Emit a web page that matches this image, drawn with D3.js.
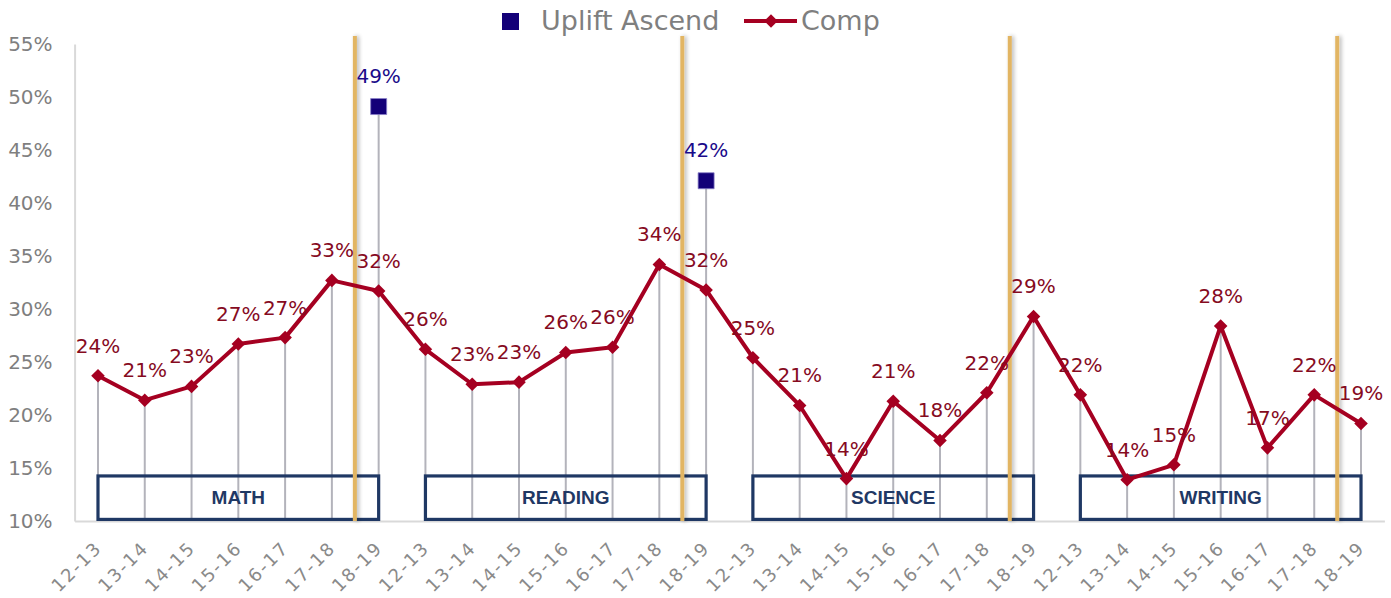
<!DOCTYPE html>
<html>
<head>
<meta charset="utf-8">
<script src="https://cdn.jsdelivr.net/npm/d3@7"></script>
<style>
html,body{margin:0;padding:0;background:#fff;}
svg{display:block;}
</style>
</head>
<body>
<svg id="chart" width="1391" height="598"></svg>
<script>
// ---- data ----
const years = ["12-13","13-14","14-15","15-16","16-17","17-18","18-19"];
const subjects = ["MATH","READING","SCIENCE","WRITING"];
const compMath    = [23.7, 21.4, 22.7, 26.7, 27.3, 32.7, 31.7];
const compReading = [26.2, 22.9, 23.1, 25.9, 26.4, 34.2, 31.8];
const compScience = [25.4, 20.9, 14.0, 21.3, 17.6, 22.1, 29.3];
const compWriting = [21.9, 13.9, 15.3, 28.4, 16.9, 21.9, 19.2];
const upliftMath    = [null, null, null, null, null, null, 49.1];
const upliftReading = [null, null, null, null, null, null, 42.1];
const upliftScience = [null, null, null, null, null, null, null];
const upliftWriting = [null, null, null, null, null, null, null];
const yTicks = [10,15,20,25,30,35,40,45,50,55];

const compAll = [compMath, compReading, compScience, compWriting];
const upliftAll = [upliftMath, upliftReading, upliftScience, upliftWriting];

// flatten
const rows = [];
subjects.forEach((s, si) => {
  years.forEach((yr, yi) => {
    rows.push({key: s + "|" + yr, subject: s, year: yr, si, yi,
               comp: compAll[si][yi], uplift: upliftAll[si][yi]});
  });
});

const svg = d3.select("#chart");
const FONT = "'DejaVu Sans', sans-serif";

const x = d3.scaleBand().domain(rows.map(d => d.key)).range([74.6, 1384.4]).padding(0);
const cx = k => x(k) + x.bandwidth() / 2;
const y = d3.scaleLinear().domain([10, 55]).range([521, 44]);

// shadow filter
const defs = svg.append("defs");
const f = defs.append("filter").attr("id", "sh").attr("filterUnits", "userSpaceOnUse")
  .attr("x", 0).attr("y", 0).attr("width", 1391).attr("height", 598);
f.append("feGaussianBlur").attr("in", "SourceAlpha").attr("stdDeviation", 2).attr("result", "b");
f.append("feOffset").attr("in", "b").attr("dx", 2).attr("dy", 0).attr("result", "o");
f.append("feComponentTransfer").attr("in", "o").attr("result", "o2")
  .append("feFuncA").attr("type", "linear").attr("slope", 0.3);
const fm = f.append("feMerge");
fm.append("feMergeNode").attr("in", "o2");
fm.append("feMergeNode").attr("in", "SourceGraphic");

// Y axis
const yAxis = svg.append("g").attr("transform", "translate(74.6,0)")
  .call(d3.axisLeft(y).tickValues(yTicks).tickSize(0).tickPadding(22).tickFormat(d => d + "%"));
yAxis.select(".domain").attr("stroke", "#d9d9d9").attr("stroke-width", 2);
yAxis.selectAll("text").attr("fill", "#7f7f7f").style("font-family", FONT).style("font-size", "20px");

// X axis
const xAxis = svg.append("g").attr("transform", "translate(0,521)")
  .call(d3.axisBottom(x).tickSize(0).tickFormat(k => k.split("|")[1]));
xAxis.select(".domain").attr("stroke", "#d9d9d9").attr("stroke-width", 2);
xAxis.selectAll("text")
  .attr("fill", "#8a8a8a")
  .style("font-family", FONT).style("font-size", "18px").style("letter-spacing", "2px")
  .attr("text-anchor", "end")
  .attr("dy", 0).attr("y", 0)
  .attr("transform", "translate(5,28) rotate(-45)");

// drop lines
svg.append("g").selectAll("line").data(rows).join("line")
  .attr("x1", d => cx(d.key)).attr("x2", d => cx(d.key))
  .attr("y1", d => y(d.uplift != null ? d.uplift : d.comp))
  .attr("y2", y(10))
  .attr("stroke", "#b3b3bb").attr("stroke-width", 2);

// subject boxes
const boxG = svg.append("g");
subjects.forEach(s => {
  const k0 = s + "|" + years[0], k1 = s + "|" + years[years.length - 1];
  const x0 = cx(k0), x1 = cx(k1);
  boxG.append("rect")
    .attr("x", x0).attr("y", y(14.25))
    .attr("width", x1 - x0).attr("height", y(10.15) - y(14.25))
    .attr("fill", "none").attr("stroke", "#1f3864").attr("stroke-width", 3.2);
  boxG.append("text")
    .attr("x", (x0 + x1) / 2).attr("y", y(12.1))
    .attr("text-anchor", "middle").attr("dominant-baseline", "middle")
    .attr("fill", "#1f3864")
    .style("font-family", "'Liberation Sans', Arial, sans-serif")
    .style("font-weight", "bold").style("font-size", "19px")
    .text(s);
});

// gold separators at start of each 18-19 band
svg.append("g").attr("filter", "url(#sh)").selectAll("rect").data(subjects).join("rect")
  .attr("x", s => x(s + "|" + years[6]) - 2.4)
  .attr("width", 4)
  .attr("y", 36).attr("height", y(10) - 36)
  .attr("fill", "#e2b563");

// comp line (continuous across all)
const line = d3.line().x(d => cx(d.key)).y(d => y(d.comp));
svg.append("path").datum(rows)
  .attr("d", line).attr("fill", "none")
  .attr("stroke", "#a50021").attr("stroke-width", 4).attr("stroke-linejoin", "round");

// comp markers
const diamond = d3.symbol().type(d3.symbolSquare).size(92);
svg.append("g").selectAll("path").data(rows).join("path")
  .attr("d", diamond)
  .attr("transform", d => `translate(${cx(d.key)},${y(d.comp)}) rotate(45)`)
  .attr("fill", "#a50021");

// comp labels
svg.append("g").selectAll("text").data(rows).join("text")
  .attr("x", d => cx(d.key)).attr("y", d => y(d.comp) - 23)
  .attr("text-anchor", "middle")
  .attr("fill", "#860b1f")
  .style("font-family", FONT).style("font-size", "20px")
  .text(d => Math.round(d.comp) + "%");

// uplift markers
const up = rows.filter(d => d.uplift != null);
const square = d3.symbol().type(d3.symbolSquare).size(256);
svg.append("g").selectAll("path").data(up).join("path")
  .attr("d", square)
  .attr("transform", d => `translate(${cx(d.key)},${y(d.uplift)})`)
  .attr("fill", "#130078").attr("stroke", "#8a80c8").attr("stroke-width", 0.8);
svg.append("g").selectAll("text").data(up).join("text")
  .attr("x", d => cx(d.key)).attr("y", d => y(d.uplift) - 24)
  .attr("text-anchor", "middle")
  .attr("fill", "#1a0a8a")
  .style("font-family", FONT).style("font-size", "20px")
  .text(d => Math.round(d.uplift) + "%");

// legend
const lg = svg.append("g");
lg.append("rect").attr("x", 502).attr("y", 13).attr("width", 17).attr("height", 17).attr("fill", "#130078");
lg.append("text").attr("x", 541).attr("y", 30)
  .attr("fill", "#7f7f7f").style("font-family", FONT).style("font-size", "27px")
  .text("Uplift Ascend");
lg.append("line").attr("x1", 744).attr("x2", 797).attr("y1", 21).attr("y2", 21)
  .attr("stroke", "#a50021").attr("stroke-width", 4);
lg.append("path").attr("d", diamond).attr("transform", "translate(771,21) rotate(45)").attr("fill", "#a50021");
lg.append("text").attr("x", 801).attr("y", 30)
  .attr("fill", "#7f7f7f").style("font-family", FONT).style("font-size", "27px")
  .text("Comp");
</script>
</body>
</html>
